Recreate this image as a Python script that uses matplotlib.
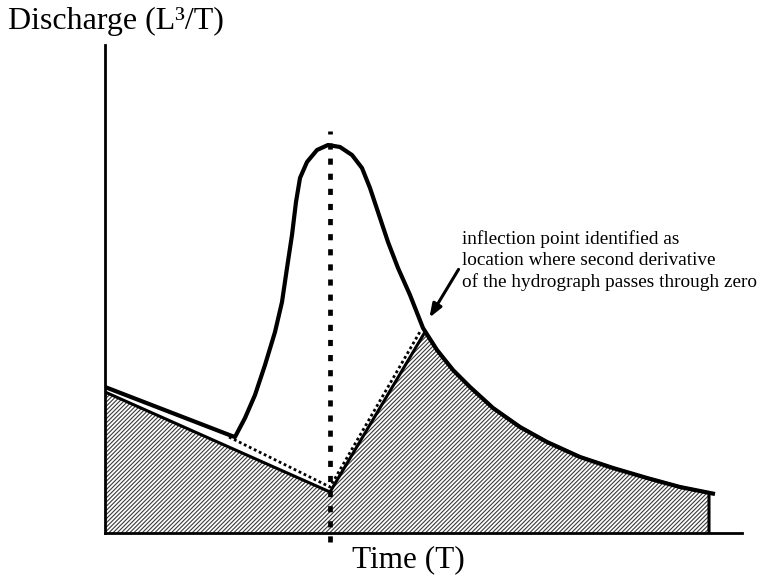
import numpy as np
import matplotlib.pyplot as plt

plt.rcParams['font.family'] = ['Liberation Serif', 'DejaVu Serif']
plt.rcParams['hatch.linewidth'] = 0.8
plt.rcParams['hatch.color'] = '#3a3a3a'

# hydrograph (time, discharge), arbitrary units
hydro_t = [0, 127, 130, 140, 150, 160, 170, 177, 182, 187, 191, 195, 202, 212, 223,
           235, 247, 257, 265, 273, 283, 293, 305, 318, 332, 348, 365, 388, 415, 442,
           475, 508, 542, 575, 610]
hydro_q = [146, 97, 96, 115, 138, 168, 201, 231, 265, 298, 331, 355, 371, 383, 388,
           386, 378, 365, 345, 321, 291, 265, 238, 205, 183, 163, 146, 125, 106, 91,
           76, 65, 55, 46, 39]

# baseflow separation: straight lines to the peak time, then up to the inflection point
base_t = [0, 225, 320]
base_q = [141, 41, 201]
# dotted guide drawn along the separation
guide_t = [124, 225, 316]
guide_q = [96, 46, 203]

t_peak = 225
t_end = 604

fig = plt.figure(figsize=(7.62, 5.75), dpi=100)
ax = fig.add_axes([105/762, 42/575, 637/762, 488/575])
ax.set_xlim(0, 637)
ax.set_ylim(0, 488)

# shaded baseflow area
rec_t = [t for t in hydro_t if t > base_t[-1] and t < t_end]
rec_q = list(np.interp(rec_t, hydro_t, hydro_q))
end_q = np.interp(t_end, hydro_t, hydro_q)
poly_t = base_t + rec_t + [t_end, t_end, 0]
poly_q = base_q + rec_q + [end_q, 0, 0]
ax.fill(poly_t, poly_q, facecolor='white', hatch='////////', edgecolor='#3a3a3a', linewidth=0)
ax.plot(base_t + rec_t + [t_end, t_end], base_q + rec_q + [end_q, 0], color='black', lw=2.2,
        solid_joinstyle='miter')
ax.plot(guide_t, guide_q, color='black', lw=2.0, linestyle=(0, (1, 1)))

ax.plot(hydro_t, hydro_q, color='black', lw=3.0, solid_joinstyle='round', solid_capstyle='butt')

# vertical line at the peak
ax.plot([t_peak, t_peak], [-9, 402], color='black', lw=3.4, linestyle=(0, (1.3, 1.9)),
        dash_capstyle='butt', clip_on=False)

ax.annotate('', xy=(323, 213), xytext=(355, 266),
            arrowprops=dict(arrowstyle='-|>,head_length=0.8,head_width=0.3', color='black', lw=2.2))
ax.text(357, 303, 'inflection point identified as\nlocation where second derivative\n'
        'of the hydrograph passes through zero', fontsize=13.9, va='top', ha='left',
        linespacing=1.3)

for s in ['top', 'right']:
    ax.spines[s].set_visible(False)
for s in ['left', 'bottom']:
    ax.spines[s].set_linewidth(2.0)
ax.set_xticks([])
ax.set_yticks([])

fig.text(8/762, 1 - 21/575, 'Discharge (L³/T)', fontsize=23, va='center', ha='left')
fig.text(408/762, 1 - 560/575, 'Time (T)', fontsize=22.5, va='center', ha='center')

fig.savefig('out.png', dpi=100)
